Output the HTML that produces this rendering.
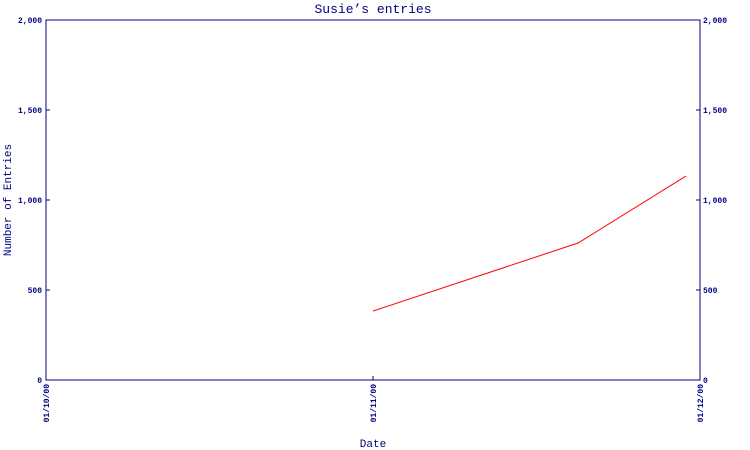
<!DOCTYPE html>
<html><head><meta charset="utf-8"><style>
html,body{margin:0;padding:0;background:#fff;}
svg{display:block;font-family:"Liberation Mono","DejaVu Sans Mono",monospace;}
</style></head><body>
<svg id="chart" width="750" height="450" viewBox="0 0 750 450" xmlns="http://www.w3.org/2000/svg">
<text x="373" y="13" text-anchor="middle" font-size="13" fill="#000080">Susie’s entries</text>
<rect x="46" y="20" width="654" height="360" fill="none" stroke="#000080" stroke-width="1"/>
<text transform="translate(11,200) rotate(-90)" text-anchor="middle" font-size="11" fill="#000080">Number of Entries</text>
<text x="373" y="447" text-anchor="middle" font-size="11" fill="#000080">Date</text>
<g id="axes"></g>
<g id="series"></g>
</svg>
<script>
const yTicks = [0, 500, 1000, 1500, 2000];
const yTickLabels = ["0", "500", "1,000", "1,500", "2,000"];
const xTickMonths = [0, 1, 2];
const xTickLabels = ["01/10/00", "01/11/00", "01/12/00"];
// dates expressed as month offset from 01/10/00 (month index + day fraction)
const pointDates = [1.0, 1.627, 1.957];
const entryCounts = [383, 761, 1133];

const L = 46, R = 700, T = 20, B = 380;
const yMax = 2000, xMax = 2;
function yScale(v){ return B - (v / yMax) * (B - T); }
function xScale(m){ return L + (m / xMax) * (R - L); }
const NS = "http://www.w3.org/2000/svg";
const axes = document.getElementById('axes');
const series = document.getElementById('series');
function mk(tag, attrs){ const e = document.createElementNS(NS, tag); for (const k in attrs) e.setAttribute(k, attrs[k]); return e; }

yTicks.forEach((v, i) => {
  const y = yScale(v);
  const t1 = mk('line', {x1: L, x2: L + 4, y1: y, y2: y, stroke: '#000080'});
  
  
  axes.appendChild(t1);
  const t2 = mk('line', {x1: R - 4, x2: R, y1: y, y2: y, stroke: '#000080'});
  
  
  axes.appendChild(t2);
  const l1 = mk('text', {x: L - 4, y: y + 3, 'text-anchor': 'end', 'font-size': '8', 'font-weight': 'bold', fill: '#000080'});
  l1.textContent = yTickLabels[i];
  
  
  axes.appendChild(l1);
  const l2 = mk('text', {x: R + 3, y: y + 3, 'text-anchor': 'start', 'font-size': '8', 'font-weight': 'bold', fill: '#000080'});
  l2.textContent = yTickLabels[i];
  
  
  axes.appendChild(l2);
});

xTickMonths.forEach((m, i) => {
  const x = xScale(m);
  const t = mk('line', {x1: x, x2: x, y1: B - 4, y2: B, stroke: '#000080'});
  
  
  axes.appendChild(t);
  const l = mk('text', {transform: 'translate(' + (x + 3) + ',' + (B + 4) + ') rotate(-90)', 'text-anchor': 'end', 'font-size': '8', 'font-weight': 'bold', fill: '#000080'});
  l.textContent = xTickLabels[i];
  
  
  axes.appendChild(l);
});

const pts = pointDates.map((d, i) => xScale(d) + ',' + yScale(entryCounts[i])).join(' ');
const line = mk('polyline', {points: pts, fill: 'none', stroke: '#ff0000', 'stroke-width': '1'});


series.appendChild(line);
</script>
</body></html>
